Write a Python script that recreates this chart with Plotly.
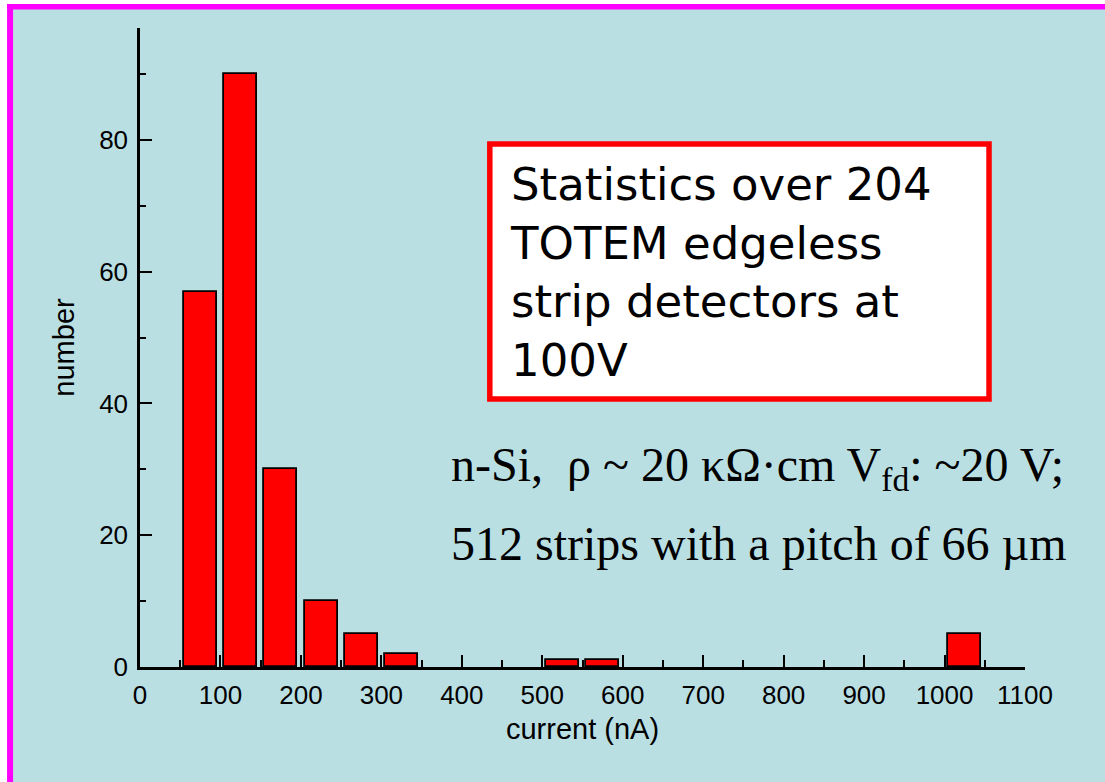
import plotly.graph_objects as go

# Data
bin_centers = [75, 125, 175, 225, 275, 325, 525, 575, 1025]
counts = [57, 90, 30, 10, 5, 2, 1, 1, 5]
bar_width_nA = 41

x_ticks = list(range(0, 1101, 100))
y_ticks = [0, 20, 40, 60, 80]

box_lines = ["Statistics over 204", "TOTEM edgeless", "strip detectors at", "100V"]
info_lines = ["n-Si,  \u03c1 ~ 20 \u03ba\u03a9\u00b7cm V<sub>fd</sub>: ~20 V;",
              "512 strips with a pitch of 66 \u00b5m"]

W, H = 1105, 782
L, R, T, B = 140, 1025.5, 28, 667  # plot area in pixels
pw, ph = R - L, B - T

def px(x):
    return (x - L) / pw

def py(y):
    return (B - y) / ph

BG = "#BADFE3"

fig = go.Figure()
fig.add_trace(go.Bar(
    x=bin_centers, y=counts, width=bar_width_nA,
    marker=dict(color="#FF0000", line=dict(color="black", width=1.8)),
    showlegend=False,
))

axis_font = dict(family="Liberation Sans, Arial", size=26, color="black")
title_font = dict(family="Liberation Sans, Arial", size=29, color="black")

fig.update_layout(
    width=W, height=H,
    margin=dict(l=L, r=W - R, t=T, b=H - B, pad=0),
    paper_bgcolor="white",
    plot_bgcolor="rgba(0,0,0,0)",
    bargap=0,
    font=dict(color="black"),
    xaxis=dict(
        range=[0, 1100], tickvals=x_ticks, ticks="inside", ticklen=12, tickwidth=2,
        tickcolor="black", showline=True, linecolor="black", linewidth=2.5,
        showgrid=False, zeroline=False, tickfont=axis_font,
        minor=dict(dtick=50, ticks="inside", ticklen=7, tickwidth=2, tickcolor="black", showgrid=False),
        title=dict(text="current (nA)", font=title_font, standoff=10),
        ticklabelstandoff=3,
    ),
    yaxis=dict(
        range=[0, 97], tickvals=y_ticks, ticks="inside", ticklen=12, tickwidth=2,
        tickcolor="black", showline=True, linecolor="black", linewidth=2.5,
        showgrid=False, zeroline=False, tickfont=axis_font,
        minor=dict(dtick=10, ticks="inside", ticklen=6, tickwidth=2, tickcolor="black", showgrid=False),
        title=dict(text="number", font=title_font, standoff=16),
        ticklabelstandoff=4,
    ),
)

shapes = []
# background panel with magenta border (left and top)
shapes.append(dict(type="rect", xref="paper", yref="paper", layer="below",
                   x0=px(7), x1=px(W + 20), y0=py(H + 20), y1=py(4),
                   fillcolor=BG, line=dict(width=0)))
shapes.append(dict(type="rect", xref="paper", yref="paper", layer="below",
                   x0=px(7), x1=px(13), y0=py(H + 20), y1=py(4),
                   fillcolor="#FF00FF", line=dict(width=0)))
shapes.append(dict(type="rect", xref="paper", yref="paper", layer="below",
                   x0=px(7), x1=px(W + 20), y0=py(9.5), y1=py(4),
                   fillcolor="#FF00FF", line=dict(width=0)))
# red-bordered white text box
shapes.append(dict(type="rect", xref="paper", yref="paper", layer="above",
                   x0=px(490), x1=px(989.5), y0=py(399), y1=py(144),
                   fillcolor="white", line=dict(color="#FF0000", width=5.5)))
fig.update_layout(shapes=shapes)

fig.add_annotation(xref="paper", yref="paper", x=px(508), y=py(272),
                   xanchor="left", yanchor="middle", align="left", showarrow=False,
                   text="<br>".join(box_lines),
                   font=dict(family="DejaVu Sans", size=45, color="black"))

info_y = [468, 543]
for txt, yy in zip(info_lines, info_y):
    fig.add_annotation(xref="paper", yref="paper", x=px(449), y=py(yy),
                       xanchor="left", yanchor="middle", showarrow=False, text=txt,
                       font=dict(family="Liberation Serif, Times New Roman", size=48, color="black"))

fig.write_html("out.html")
